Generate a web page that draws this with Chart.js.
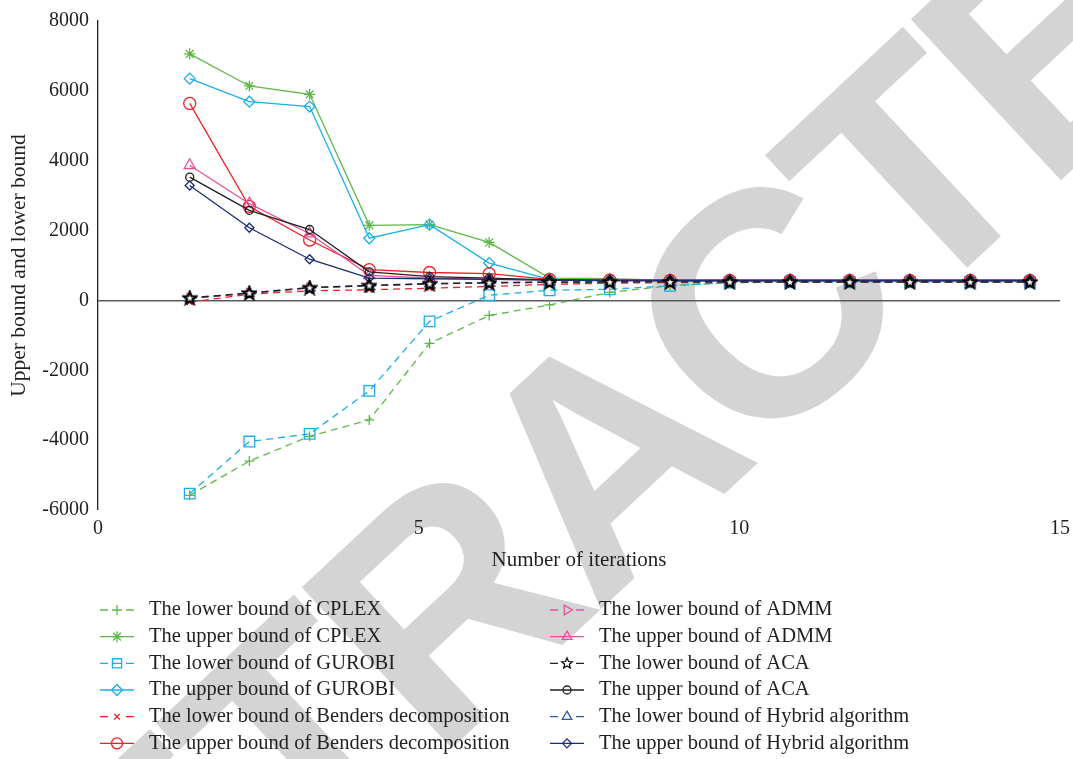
<!DOCTYPE html>
<html><head><meta charset="utf-8">
<script src="https://cdn.jsdelivr.net/npm/chart.js@4.4.1/dist/chart.umd.min.js"></script>
<style>html,body{margin:0;padding:0;background:#fff;}#wrap{width:1073px;height:759px;}</style>
</head><body><div id="wrap"><canvas id="c" width="1073" height="759"></canvas></div>
<script>
// ---- data ----
const iterations = [1.43, 2.36, 3.3, 4.23, 5.17, 6.1, 7.04, 7.98, 8.92, 9.85, 10.79, 11.72, 12.66, 13.6, 14.53];
const lowerCPLEX   = [-5580, -4600, -3890, -3420, -1230, -430, -130, 230, 420, 510, 520, 520, 520, 520, 520];
const upperCPLEX   = [7060, 6140, 5900, 2150, 2170, 1660, 640, 620, 575, 570, 570, 570, 570, 570, 570];
const lowerGUROBI  = [-5530, -4040, -3820, -2590, -600, 150, 290, 320, 420, 515, 520, 520, 520, 520, 520];
const upperGUROBI  = [6350, 5690, 5550, 1780, 2170, 1070, 600, 580, 570, 570, 570, 570, 570, 570, 570];
const lowerBenders = [-50, 180, 275, 305, 350, 400, 460, 495, 510, 515, 515, 515, 515, 515, 515];
const upperBenders = [5640, 2690, 1730, 880, 800, 765, 600, 580, 570, 570, 570, 570, 570, 570, 570];
const lowerADMM    = [60, 200, 360, 420, 470, 500, 515, 520, 525, 525, 525, 525, 525, 525, 525];
const upperADMM    = [3870, 2770, 1910, 720, 640, 610, 580, 570, 570, 570, 570, 570, 570, 570, 570];
const lowerACA     = [75, 215, 370, 430, 480, 510, 525, 530, 530, 530, 530, 530, 530, 530, 530];
const upperACA     = [3530, 2580, 2030, 820, 680, 640, 590, 575, 570, 570, 570, 570, 570, 570, 570];
const lowerHybrid  = [60, 205, 360, 420, 475, 505, 520, 528, 530, 530, 530, 530, 530, 530, 530];
const upperHybrid  = [3290, 2080, 1180, 640, 620, 600, 580, 570, 570, 570, 570, 570, 570, 570, 570];
const seriesNames = [
  'The lower bound of CPLEX', 'The upper bound of CPLEX',
  'The lower bound of GUROBI', 'The upper bound of GUROBI',
  'The lower bound of Benders decomposition', 'The upper bound of Benders decomposition',
  'The lower bound of ADMM', 'The upper bound of ADMM',
  'The lower bound of ACA', 'The upper bound of ACA',
  'The lower bound of Hybrid algorithm', 'The upper bound of Hybrid algorithm'
];
const xTickValues = [0, 5, 10, 15];
const yTickValues = [-6000, -4000, -2000, 0, 2000, 4000, 6000, 8000];
const xTitle = 'Number of iterations';
const yTitle = 'Upper bound and lower bound';
const watermarkText = 'RETRACTED';

// ---- styling ----
const FONT = '"Liberation Serif", "Times New Roman", serif';
const TEXT = '#231f20';
const GREEN = '#5db848', CYAN = '#1aaee8', RED = '#ec2227', PINK = '#e5529b', BLACK = '#231f20', NAVY = '#1e2b76', BLUE = '#2d5b9a';

function makeStar(outer, inner, lw, size) {
  const cv = document.createElement('canvas');
  cv.width = size; cv.height = size;
  const c = cv.getContext('2d');
  const cx = size / 2, cy = size / 2 + 0.5;
  c.beginPath();
  for (let i = 0; i < 10; i++) {
    const r = i % 2 === 0 ? outer : inner;
    const a = -Math.PI/2 + i*Math.PI/5;
    const px = cx + r*Math.cos(a), py = cy + r*Math.sin(a);
    i === 0 ? c.moveTo(px, py) : c.lineTo(px, py);
  }
  c.closePath();
  c.fillStyle = '#fff'; c.fill();
  c.lineWidth = lw; c.strokeStyle = '#000'; c.stroke();
  return cv;
}
const starImg = makeStar(6.6, 2.8, 2.2, 16);
const starLegendImg = makeStar(5.6, 2.5, 1.2, 14);

const seriesData = [lowerCPLEX, upperCPLEX, lowerGUROBI, upperGUROBI, lowerBenders, upperBenders, lowerADMM, upperADMM, lowerACA, upperACA, lowerHybrid, upperHybrid];
const styles = [
  {color: GREEN, dash: true,  ps: 'cross',    r: 5,   rot: 0,  order: 11},
  {color: GREEN, dash: false, ps: 'star',     r: 5.5, rot: 0,  order: 10},
  {color: CYAN,  dash: true,  ps: 'rect',     r: 7.5, rot: 0,  order: 9},
  {color: CYAN,  dash: false, ps: 'rectRot',  r: 5.5, rot: 0,  order: 8},
  {color: RED,   dash: true,  ps: 'crossRot', r: 4,   rot: 0,  order: 7},
  {color: RED,   dash: false, ps: 'circle',   r: 6,   rot: 0,  order: 6},
  {color: PINK,  dash: true,  ps: 'triangle', r: 5.5, rot: 90, order: 5},
  {color: PINK,  dash: false, ps: 'triangle', r: 6.5, rot: 0,  order: 4},
  {color: BLACK, dash: true,  ps: starImg,    r: 7,   rot: 0,  order: 0},
  {color: BLACK, dash: false, ps: 'circle',   r: 4,   rot: 0,  order: 2},
  {color: BLUE,  dash: true,  ps: 'triangle', r: 5.5, rot: 0,  order: 3},
  {color: NAVY,  dash: false, ps: 'rectRot',  r: 4.5, rot: 0,  order: 1}
];

const datasets = seriesNames.map((name, i) => {
  const s = styles[i];
  return {
    label: name,
    data: iterations.map((x, j) => ({x: x, y: seriesData[i][j]})),
    borderColor: s.color,
    backgroundColor: s.color,
    borderWidth: 1.3,
    borderDash: s.dash ? [7, 5] : [],
    pointStyle: s.ps,
    pointRadius: s.r,
    pointRotation: s.rot,
    pointBorderColor: s.color,
    pointBackgroundColor: 'rgba(255,255,255,0)',
    pointBorderWidth: 1.3,
    tension: 0,
    order: s.order
  };
});

function drawMarker(ctx, style, x, y, r, color, rot) {
  ctx.save();
  if (style instanceof HTMLCanvasElement) {
    ctx.drawImage(style, Math.round(x - style.width/2), Math.round(y - style.height/2));
    ctx.restore(); return;
  }
  ctx.strokeStyle = color; ctx.lineWidth = 1.3; ctx.setLineDash([]);
  ctx.beginPath();
  const rad = (rot || 0) * Math.PI / 180;
  let s;
  switch (style) {
    case 'circle': ctx.arc(x, y, r, 0, 2*Math.PI); break;
    case 'rect': s = r*Math.SQRT1_2; ctx.rect(x-s, y-s, 2*s, 2*s); ctx.moveTo(x-s, y); ctx.lineTo(x+s, y); break;
    case 'rectRot': ctx.moveTo(x-r, y); ctx.lineTo(x, y-r); ctx.lineTo(x+r, y); ctx.lineTo(x, y+r); ctx.closePath(); break;
    case 'triangle': {
      let a = rad;
      ctx.moveTo(x + Math.sin(a)*r, y - Math.cos(a)*r);
      a += 2*Math.PI/3; ctx.lineTo(x + Math.sin(a)*r, y - Math.cos(a)*r);
      a += 2*Math.PI/3; ctx.lineTo(x + Math.sin(a)*r, y - Math.cos(a)*r);
      ctx.closePath(); break;
    }
    case 'cross': ctx.moveTo(x, y-r); ctx.lineTo(x, y+r); ctx.moveTo(x-r, y); ctx.lineTo(x+r, y); break;
    case 'crossRot': s = r*Math.SQRT1_2; ctx.moveTo(x-s, y-s); ctx.lineTo(x+s, y+s); ctx.moveTo(x+s, y-s); ctx.lineTo(x-s, y+s); break;
    case 'star': ctx.moveTo(x, y-r); ctx.lineTo(x, y+r); ctx.moveTo(x-r, y); ctx.lineTo(x+r, y);
      s = r*Math.SQRT1_2; ctx.moveTo(x-s, y-s); ctx.lineTo(x+s, y+s); ctx.moveTo(x+s, y-s); ctx.lineTo(x-s, y+s); break;
  }
  ctx.stroke();
  ctx.restore();
}

const watermark = {
  id: 'watermark',
  beforeDraw(chart) {
    const ctx = chart.ctx;
    ctx.save();
    ctx.fillStyle = '#fff';
    ctx.fillRect(0, 0, chart.width, chart.height);
    ctx.font = 'bold 320px "Liberation Sans", Arial, sans-serif';
    ctx.fillStyle = '#d4d4d4';
    const spacing = -14;
    const ang = -43 * Math.PI / 180;
    let pre = 0;
    for (let i = 0; i < 6; i++) pre += ctx.measureText(watermarkText[i]).width + spacing;
    pre += ctx.measureText('T').width / 2;
    const bx = 984 - pre * Math.cos(ang), by = 252 - pre * Math.sin(ang);
    ctx.translate(bx, by);
    ctx.rotate(ang);
    ctx.textBaseline = 'alphabetic';
    let x = 0;
    for (const ch of watermarkText) {
      ctx.fillText(ch, x, 0);
      x += ctx.measureText(ch).width + spacing;
    }
    ctx.restore();
  }
};

const legendPlugin = {
  id: 'customLegend',
  afterDraw(chart) {
    const ctx = chart.ctx;
    ctx.save();
    ctx.font = '20.5px ' + FONT;
    ctx.textBaseline = 'middle';
    ctx.textAlign = 'left';
    seriesNames.forEach((name, i) => {
      const col = i < 6 ? 0 : 1;
      const row = i % 6;
      const x0 = col === 0 ? 100 : 550;
      const y = 610 + row * 26.67;
      const s = styles[i];
      ctx.save();
      ctx.strokeStyle = s.color; ctx.lineWidth = 1.3; ctx.setLineDash([]);
      ctx.beginPath();
      if (s.dash) {
        ctx.moveTo(x0, y); ctx.lineTo(x0 + 8, y);
        ctx.moveTo(x0 + 26, y); ctx.lineTo(x0 + 34, y);
      } else {
        ctx.moveTo(x0, y); ctx.lineTo(x0 + 34, y);
      }
      ctx.stroke();
      ctx.restore();
      const ps = s.ps === starImg ? starLegendImg : s.ps;
      const lr = s.ps === 'rect' ? 6.5 : Math.min(s.r, 5.5);
      drawMarker(ctx, ps, x0 + 17, y, lr, s.color, s.rot);
      ctx.fillStyle = TEXT;
      ctx.fillText(name, col === 0 ? 149 : 599, y);
    });
    ctx.restore();
  }
};

new Chart(document.getElementById('c'), {
  type: 'line',
  data: {datasets: datasets},
  plugins: [watermark, legendPlugin],
  options: {
    responsive: false,
    animation: false,
    devicePixelRatio: 1,
    layout: {padding: {top: 18, right: 13, left: 0, bottom: 0}},
    plugins: {legend: {display: false}, tooltip: {enabled: false}},
    elements: {line: {tension: 0}},
    scales: {
      x: {
        type: 'linear', min: 0, max: 15,
        afterBuildTicks: (sc) => { sc.ticks = xTickValues.map(v => ({value: v})); },
        afterFit: (sc) => { sc.height = 249; sc.paddingLeft = 0; sc.paddingRight = 0; },
        ticks: {font: {family: FONT, size: 20}, color: TEXT, padding: 7, maxRotation: 0, callback: (v) => String(v)},
        grid: {display: false, drawTicks: false},
        border: {display: false},
        title: {display: true, text: xTitle, font: {family: FONT, size: 21}, color: TEXT, padding: {top: 0, bottom: 186}}
      },
      y: {
        type: 'linear', min: -6000, max: 8000,
        afterBuildTicks: (sc) => { sc.ticks = yTickValues.map(v => ({value: v})); },
        afterFit: (sc) => { sc.width = 98; },
        ticks: {font: {family: FONT, size: 20}, color: TEXT, padding: 9, callback: (v) => String(v)},
        grid: {
          drawTicks: false,
          color: (c) => (c.tick && c.tick.value === 0) ? '#5a5a5a' : 'rgba(0,0,0,0)',
          lineWidth: (c) => (c.tick && c.tick.value === 0) ? 1.5 : 0
        },
        border: {display: true, color: '#231f20', width: 1.3},
        title: {display: true, text: yTitle, font: {family: FONT, size: 21.5}, color: TEXT, padding: {top: 6, bottom: 0}}
      }
    }
  }
});
</script>
</body></html>
